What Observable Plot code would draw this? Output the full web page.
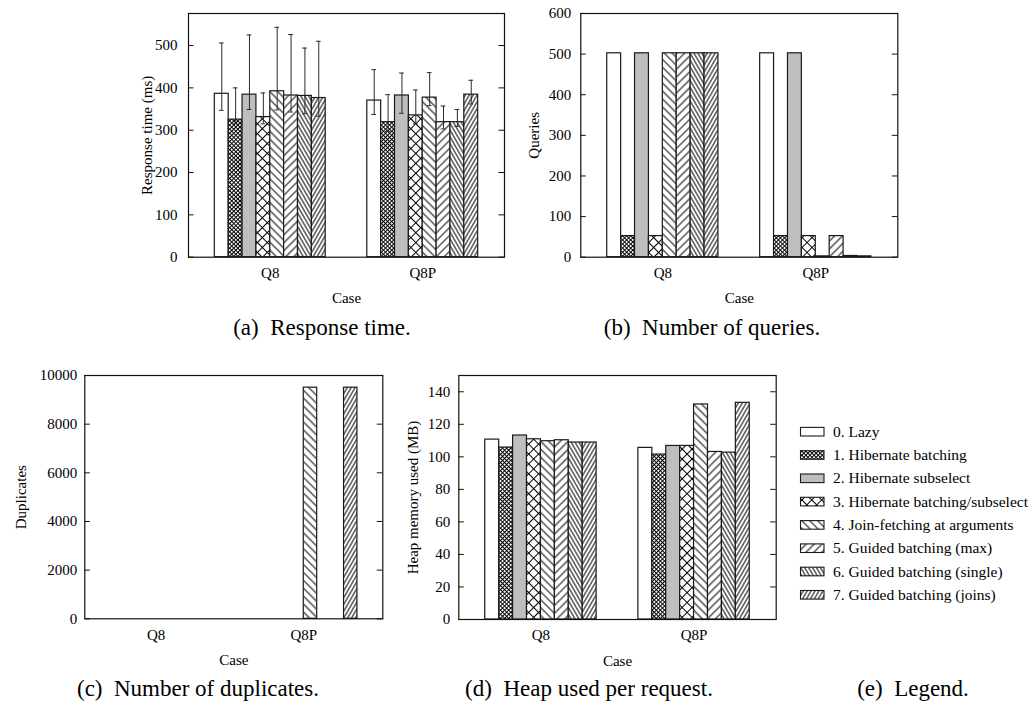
<!DOCTYPE html>
<html><head><meta charset="utf-8">
<script src="https://cdn.jsdelivr.net/npm/d3@7"></script>
<script src="https://cdn.jsdelivr.net/npm/@observablehq/plot@0.6"></script>
<style>
html,body{margin:0;padding:0;background:#fff;}
#root{position:relative;width:1034px;height:706px;overflow:hidden;font-family:"Liberation Serif","DejaVu Serif",serif;background:#fff;}
.panel{position:absolute;}
#overlay{position:absolute;left:0;top:0;}
</style></head><body>
<svg width="0" height="0" style="position:absolute">
<defs>
<pattern id="p1" patternUnits="userSpaceOnUse" width="2.9" height="2.9" patternTransform="rotate(45)">
<rect width="2.9" height="2.9" fill="#fff"/>
<path d="M0,1.45H2.9M1.45,0V2.9" stroke="#000" stroke-width="1"/>
</pattern>
<pattern id="p3" patternUnits="userSpaceOnUse" width="7" height="7" patternTransform="rotate(45)">
<rect width="7" height="7" fill="#fff"/>
<path d="M0,3.5H7M3.5,0V7" stroke="#000" stroke-width="1"/>
</pattern>
<pattern id="p4" patternUnits="userSpaceOnUse" width="5.6" height="10" patternTransform="rotate(-45)">
<rect width="5.6" height="10" fill="#fff"/>
<path d="M2.8,0V10" stroke="#000" stroke-width="1"/>
</pattern>
<pattern id="p5" patternUnits="userSpaceOnUse" width="5.6" height="10" patternTransform="rotate(45)">
<rect width="5.6" height="10" fill="#fff"/>
<path d="M2.8,0V10" stroke="#000" stroke-width="1"/>
</pattern>
<pattern id="p6" patternUnits="userSpaceOnUse" width="3.4" height="10" patternTransform="rotate(-30)">
<rect width="3.4" height="10" fill="#fff"/>
<path d="M1.7,0V10" stroke="#000" stroke-width="1"/>
</pattern>
<pattern id="p7" patternUnits="userSpaceOnUse" width="3.4" height="10" patternTransform="rotate(30)">
<rect width="3.4" height="10" fill="#fff"/>
<path d="M1.7,0V10" stroke="#000" stroke-width="1"/>
</pattern>
</defs>
</svg>
<div id="root"></div>
<script>
// ---- data ----
const cases = ["Q8", "Q8P"];
const strategies = [
  "0. Lazy",
  "1. Hibernate batching",
  "2. Hibernate subselect",
  "3. Hibernate batching/subselect",
  "4. Join-fetching at arguments",
  "5. Guided batching (max)",
  "6. Guided batching (single)",
  "7. Guided batching (joins)"
];
const responseTimeQ8  = [386, 325, 384, 331, 392, 382, 381, 376];
const responseTimeQ8P = [370, 319, 382, 335, 377, 319, 319, 384];
const responseLowQ8   = [347, 315, 349, 315, 348, 343, 339, 333];
const responseLowQ8P  = [337, 297, 340, 315, 358, 303, 309, 362];
const responseHighQ8  = [506, 400, 525, 388, 543, 526, 494, 510];
const responseHighQ8P = [443, 384, 435, 395, 436, 357, 349, 418];
const queriesQ8  = [502, 52, 502, 52, 502, 502, 502, 502];
const queriesQ8P = [502, 52, 502, 52, 2, 52, 3, 2];
const duplicatesQ8  = [0, 0, 0, 0, 0, 0, 0, 0];
const duplicatesQ8P = [0, 0, 0, 0, 9500, 0, 0, 9500];
const heapQ8  = [110.6, 105.7, 113.1, 110.8, 109.6, 110.2, 108.8, 108.8];
const heapQ8P = [105.5, 101.4, 106.7, 106.7, 132.2, 103.0, 102.6, 133.2];

const responseTicks = [0, 100, 200, 300, 400, 500];
const queriesTicks = [0, 100, 200, 300, 400, 500, 600];
const duplicatesTicks = [0, 2000, 4000, 6000, 8000, 10000];
const heapTicks = [0, 20, 40, 60, 80, 100, 120, 140];

const captions = ["(a)  Response time.", "(b)  Number of queries.", "(c)  Number of duplicates.", "(d)  Heap used per request.", "(e)  Legend."];

// ---- styles ----
const fills = ["#ffffff", "url(#p1)", "#bebebe", "url(#p3)", "url(#p4)", "url(#p5)", "url(#p6)", "url(#p7)"];
const groupGap = 3;
const groupStep = strategies.length + groupGap;
const centers = cases.map((c, ci) => ci * groupStep + strategies.length / 2);
const tickLenPx = 5.5;

function buildRows(valsByCase, lowByCase, highByCase) {
  const rows = [];
  valsByCase.forEach((vals, ci) => vals.forEach((v, si) => rows.push({
    case: cases[ci], strategy: strategies[si], si,
    pos: ci * groupStep + si,
    value: v,
    low: lowByCase ? lowByCase[ci][si] : null,
    high: highByCase ? highByCase[ci][si] : null
  })));
  return rows;
}

const root = document.getElementById("root");

function drawPanel(o) {
  const rows = o.rows;
  const marks = [];
  const unitsPerPx = (o.xDomain[1] - o.xDomain[0]) / (o.width - o.mL - o.mR);
  const tl = tickLenPx * unitsPerPx;
  strategies.forEach((s, si) => {
    marks.push(Plot.rectY(rows.filter(r => r.si === si), {
      x1: "pos", x2: r => r.pos + 1, y1: 0, y2: "value",
      fill: fills[si], stroke: "#1a1a1a", strokeWidth: 1.2
    }));
  });
  if (o.errors) {
    marks.push(Plot.ruleX(rows, {x: r => r.pos + 0.5, y1: "low", y2: "high", stroke: "#2a2a2a", strokeWidth: 1}));
    marks.push(Plot.ruleY(rows, {y: "high", x1: r => r.pos + 0.33, x2: r => r.pos + 0.67, stroke: "#2a2a2a", strokeWidth: 1}));
    marks.push(Plot.ruleY(rows, {y: "low", x1: r => r.pos + 0.33, x2: r => r.pos + 0.67, stroke: "#2a2a2a", strokeWidth: 1}));
  }
  // inward tick marks on both sides (gnuplot-style mirror ticks)
  marks.push(Plot.ruleY(o.yTicks, {y: d => d, x1: () => o.xDomain[0], x2: () => o.xDomain[0] + tl, stroke: "#111", strokeWidth: 1}));
  marks.push(Plot.ruleY(o.yTicks, {y: d => d, x1: () => o.xDomain[1] - tl, x2: () => o.xDomain[1], stroke: "#111", strokeWidth: 1}));
  marks.push(Plot.frame({stroke: "#111", strokeWidth: 1.2}));
  marks.push(Plot.axisY({ticks: o.yTicks, tickSize: 0, tickPadding: o.yPad, tickFormat: d3.format("d"), label: o.ylabel, labelAnchor: "center", labelOffset: o.yLabelOffset, labelArrow: "none"}));
  marks.push(Plot.axisX({ticks: centers, tickFormat: d => cases[centers.indexOf(d)], tickSize: 0, tickPadding: o.xPad, label: "Case", labelAnchor: "center", labelOffset: o.xLabelOffset, labelArrow: "none"}));
  const svg = Plot.plot({
    width: o.width, height: o.height,
    marginLeft: o.mL, marginRight: o.mR, marginTop: o.mT, marginBottom: o.mB,
    x: {type: "linear", domain: o.xDomain},
    y: {type: "linear", domain: o.yDomain},
    style: {fontFamily: "Liberation Serif", fontSize: "15px", background: "transparent", color: "#000", overflow: "visible"},
    marks
  });
  svg.classList.add("panel");
  svg.style.left = o.left + "px";
  svg.style.top = o.top + "px";
  svg.style.position = "absolute";
  svg.style.maxWidth = "none";
  root.appendChild(svg);
}

drawPanel({
  rows: buildRows([responseTimeQ8, responseTimeQ8P], [responseLowQ8, responseLowQ8P], [responseHighQ8, responseHighQ8P]),
  errors: true,
  yDomain: [0, 575.7], yTicks: responseTicks, xDomain: [-1.9, 20.9],
  ylabel: "Response time (ms)", yLabelOffset: 47, yPad: 11, xPad: 10, xLabelOffset: 46,
  left: 0, top: 0, width: 520, height: 320, mL: 188, mR: 16, mT: 13, mB: 63.3
});
drawPanel({
  rows: buildRows([queriesQ8, queriesQ8P]),
  errors: false,
  yDomain: [0, 600], yTicks: queriesTicks, xDomain: [-1.9, 20.9],
  ylabel: "Queries", yLabelOffset: 52, yPad: 9.5, xPad: 10, xLabelOffset: 46,
  left: 520, top: 0, width: 514, height: 320, mL: 60.3, mR: 136.7, mT: 13, mB: 63.3
});
drawPanel({
  rows: buildRows([duplicatesQ8, duplicatesQ8P]),
  errors: false,
  yDomain: [0, 10000], yTicks: duplicatesTicks, xDomain: [-1.32, 20.89],
  ylabel: "Duplicates", yLabelOffset: 69, yPad: 7.5, xPad: 11, xLabelOffset: 46,
  left: 0, top: 360, width: 400, height: 320, mL: 84.3, mR: 17.7, mT: 15, mB: 61.7
});
drawPanel({
  rows: buildRows([heapQ8, heapQ8P]),
  errors: false,
  yDomain: [0, 150], yTicks: heapTicks, xDomain: [-1.9, 20.9],
  ylabel: "Heap memory used (MB)", yLabelOffset: 51, yPad: 8.5, xPad: 10, xLabelOffset: 46,
  left: 400, top: 360, width: 390, height: 320, mL: 58.3, mR: 14.3, mT: 15, mB: 61
});

// ---- overlay: legend and captions ----
const ov = d3.select(root).append("svg").attr("id", "overlay").attr("width", 1034).attr("height", 706)
  .style("font-family", "Liberation Serif").style("pointer-events", "none");
const leg = ov.append("g");
strategies.forEach((s, i) => {
  const cy = 431.7 + i * 23.3;
  leg.append("rect").attr("x", 800.5).attr("y", cy - 4.3).attr("width", 23.5).attr("height", 8.6)
    .attr("fill", fills[i]).attr("stroke", "#1a1a1a").attr("stroke-width", 1.1);
  leg.append("text").attr("x", 833).attr("y", cy + 5).attr("font-size", 15.5).text(s);
});
const capPos = [[322, 335], [712, 335], [198, 696], [589, 696], [913, 696]];
captions.forEach((c, i) => {
  ov.append("text").attr("x", capPos[i][0]).attr("y", capPos[i][1]).attr("text-anchor", "middle")
    .attr("font-size", 23).attr("xml:space", "preserve").style("white-space", "pre").text(c);
});
</script>
</body></html>
